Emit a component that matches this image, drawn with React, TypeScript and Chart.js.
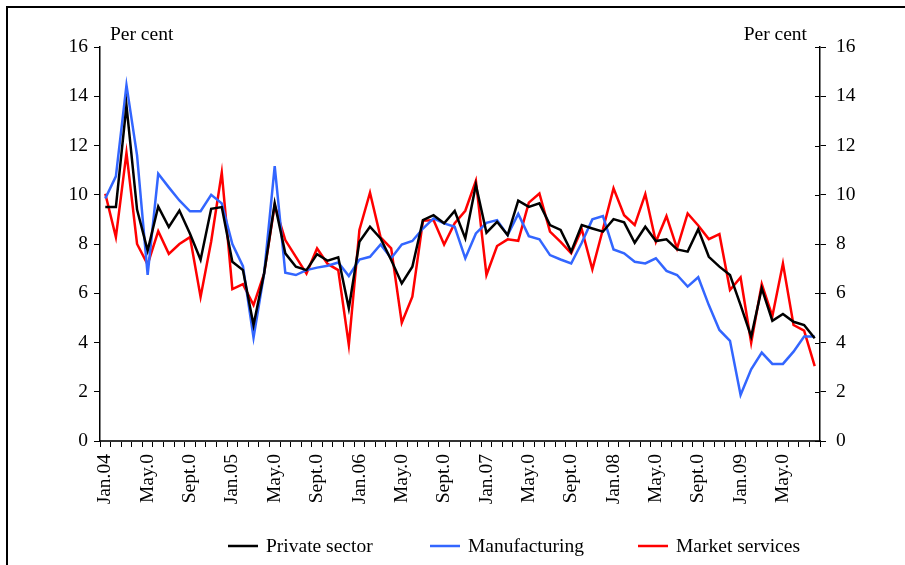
import React, { useEffect, useRef } from "react";
import { Chart, registerables } from "chart.js";

Chart.register(...registerables);

const categories = [
  "Jan.04", "Feb.04", "Mar.04", "Apr.04", "May.0", "Jun.04", "Jul.04", "Aug.04", "Sept.0", "Oct.04", "Nov.04", "Dec.04",
  "Jan.05", "Feb.05", "Mar.05", "Apr.05", "May.0", "Jun.05", "Jul.05", "Aug.05", "Sept.0", "Oct.05", "Nov.05", "Dec.05",
  "Jan.06", "Feb.06", "Mar.06", "Apr.06", "May.0", "Jun.06", "Jul.06", "Aug.06", "Sept.0", "Oct.06", "Nov.06", "Dec.06",
  "Jan.07", "Feb.07", "Mar.07", "Apr.07", "May.0", "Jun.07", "Jul.07", "Aug.07", "Sept.0", "Oct.07", "Nov.07", "Dec.07",
  "Jan.08", "Feb.08", "Mar.08", "Apr.08", "May.0", "Jun.08", "Jul.08", "Aug.08", "Sept.0", "Oct.08", "Nov.08", "Dec.08",
  "Jan.09", "Feb.09", "Mar.09", "Apr.09", "May.0", "Jun.09", "Jul.09", "Aug.09",
];

const privateSector = [
  9.5, 9.5, 13.63, 9.4, 7.73, 9.52, 8.69, 9.36, 8.42, 7.36, 9.43, 9.5,
  7.28, 6.94, 4.71, 6.81, 9.65, 7.62, 7.08, 6.94, 7.59, 7.32, 7.46, 5.39,
  8.09, 8.7, 8.23, 7.35, 6.4, 7.08, 8.97, 9.17, 8.84, 9.34, 8.23, 10.4,
  8.46, 8.9, 8.36, 9.76, 9.51, 9.65, 8.77, 8.57, 7.69, 8.77, 8.63, 8.5,
  9.01, 8.88, 8.05, 8.7, 8.12, 8.19, 7.78, 7.69, 8.6, 7.48, 7.08, 6.74,
  5.52, 4.24, 6.2, 4.88, 5.16, 4.84, 4.71, 4.17,
];

const manufacturing = [
  9.85, 10.75, 14.45, 11.6, 6.75, 10.85, 10.3, 9.77, 9.33, 9.33, 10.0, 9.65,
  8.0, 7.1, 4.2, 6.8, 11.16, 6.83, 6.74, 6.94, 7.04, 7.12, 7.25, 6.7,
  7.37, 7.48, 7.98, 7.42, 7.98, 8.12, 8.63, 9.04, 8.84, 8.7, 7.42, 8.43,
  8.86, 8.97, 8.36, 9.22, 8.32, 8.19, 7.55, 7.37, 7.21, 8.05, 9.0, 9.13,
  7.78, 7.62, 7.28, 7.21, 7.42, 6.91, 6.74, 6.27, 6.65, 5.52, 4.51, 4.07,
  1.87, 2.91, 3.59, 3.13, 3.13, 3.63, 4.24, 4.24,
];

const marketServices = [
  10.04, 8.28, 11.7, 8.0, 7.17, 8.52, 7.6, 8.0, 8.28, 5.85, 8.1, 10.9,
  6.17, 6.37, 5.52, 6.8, 9.58, 8.16, 7.48, 6.8, 7.82, 7.19, 6.94, 3.9,
  8.57, 10.08, 8.27, 7.82, 4.8, 5.86, 8.94, 8.97, 7.98, 8.84, 9.35, 10.57,
  6.74, 7.92, 8.19, 8.13, 9.68, 10.05, 8.5, 8.09, 7.62, 8.6, 6.97, 8.6,
  10.26, 9.17, 8.77, 10.03, 8.09, 9.13, 7.82, 9.24, 8.75, 8.2, 8.4, 6.13,
  6.64, 3.99, 6.37, 5.07, 7.21, 4.71, 4.48, 3.04,
];

const seriesNames = ["Private sector", "Manufacturing", "Market services"];
const seriesColors = ["#000000", "#3366ff", "#ff0000"];
const yTicks = [0, 2, 4, 6, 8, 10, 12, 14, 16];
const axisTitle = "Per cent";

const FONT = "'Liberation Serif', 'DejaVu Serif', serif";
const FONT_SIZE = 19.5;

const overlayPlugin = {
  id: "overlay",
  afterDraw(chart: any) {
    const ctx = chart.ctx;
    const area = chart.chartArea;
    ctx.save();

    // outer frame (top and left edges)
    ctx.fillStyle = "#000";
    ctx.fillRect(6, 6, chart.width - 6, 2);
    ctx.fillRect(6, 6, 2, chart.height - 6);

    // inward half of right-axis ticks
    const y2 = chart.scales.y2;
    ctx.strokeStyle = "#000";
    ctx.lineWidth = 1;
    yTicks.forEach((v) => {
      const py = Math.round(y2.getPixelForValue(v)) + 0.5;
      ctx.beginPath();
      ctx.moveTo(area.right - 5, py);
      ctx.lineTo(area.right, py);
      ctx.stroke();
    });

    // axis titles
    ctx.fillStyle = "#000";
    ctx.font = `${FONT_SIZE}px ${FONT}`;
    ctx.textBaseline = "alphabetic";
    ctx.textAlign = "left";
    ctx.fillText(axisTitle, area.left + 10, 40);
    ctx.textAlign = "right";
    ctx.fillText(axisTitle, area.right - 13, 40);

    // legend
    const legendY = 546;
    const starts = [228, 430, 638];
    chart.data.datasets.forEach((ds: any, i: number) => {
      const x0 = starts[i];
      ctx.strokeStyle = ds.borderColor;
      ctx.lineWidth = 2.5;
      ctx.beginPath();
      ctx.moveTo(x0, legendY);
      ctx.lineTo(x0 + 30, legendY);
      ctx.stroke();
      ctx.textAlign = "left";
      ctx.textBaseline = "middle";
      ctx.fillStyle = "#000";
      ctx.fillText(ds.label, x0 + 38, legendY + 1);
    });
    ctx.restore();
  },
};

export default function App() {
  const ref = useRef<HTMLCanvasElement | null>(null);

  useEffect(() => {
    if (!ref.current) return;
    const yAxisCommon = (pos: "left" | "right", width: number, pad: number) => ({
      position: pos,
      min: 0,
      max: 16,
      afterFit: (axis: any) => {
        axis.width = width;
      },
      afterBuildTicks: (axis: any) => {
        axis.ticks = yTicks.map((v) => ({ value: v }));
      },
      grid: {
        drawOnChartArea: false,
        drawTicks: true,
        tickLength: 6,
        color: "#000",
        lineWidth: 1,
      },
      border: { display: true, color: "#000", width: 1.5 },
      ticks: {
        color: "#000",
        font: { family: FONT, size: FONT_SIZE },
        padding: pad,
      },
    });

    const chart = new Chart(ref.current, {
      type: "line",
      data: {
        labels: categories,
        datasets: [
          { label: seriesNames[0], data: privateSector, borderColor: seriesColors[0], yAxisID: "y" },
          { label: seriesNames[1], data: manufacturing, borderColor: seriesColors[1], yAxisID: "y" },
          { label: seriesNames[2], data: marketServices, borderColor: seriesColors[2], yAxisID: "y" },
        ].map((d) => ({
          ...d,
          backgroundColor: d.borderColor,
          borderWidth: 2.5,
          pointRadius: 0,
          tension: 0,
          fill: false,
        })) as any,
      },
      options: {
        animation: false,
        responsive: false,
        maintainAspectRatio: false,
        layout: { padding: { top: 47, left: 0, right: 0, bottom: 0 } },
        plugins: {
          legend: { display: false },
          tooltip: { enabled: false },
        },
        scales: {
          x: {
            type: "category",
            offset: true,
            afterFit: (axis: any) => {
              axis.height = 124;
            },
            grid: {
              offset: true,
              drawOnChartArea: false,
              drawTicks: true,
              tickLength: 6,
              color: "#000",
            },
            border: { display: true, color: "#333", width: 2 },
            ticks: {
              autoSkip: false,
              maxRotation: 90,
              minRotation: 90,
              color: "#000",
              font: { family: FONT, size: FONT_SIZE },
              padding: 7,
              callback: (_v: any, idx: number) => (idx % 4 === 0 ? categories[idx] : ""),
            },
          },
          y: yAxisCommon("left", 100, 6) as any,
          y2: yAxisCommon("right", 85, 10) as any,
        },
      },
      plugins: [overlayPlugin],
    });
    return () => chart.destroy();
  }, []);

  return (
    <div style={{ position: "absolute", left: 0, top: 0, width: 905, height: 565, background: "#fff" }}>
      <canvas ref={ref} width={905} height={565} style={{ display: "block" }} />
    </div>
  );
}
